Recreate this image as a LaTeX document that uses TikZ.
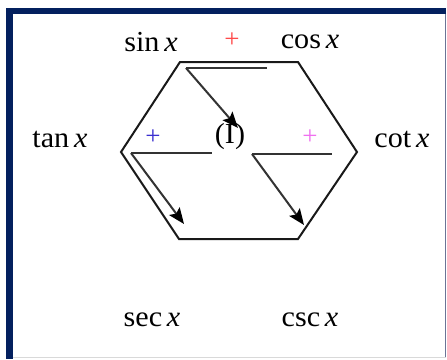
\documentclass[tikz,border=0pt]{standalone}
\usepackage{fontspec}
\setmainfont{Liberation Serif}[FakeStretch=1.04]
\usetikzlibrary{arrows.meta}
\definecolor{navy}{HTML}{03205E}
\definecolor{edgegray}{HTML}{6B7496}
\definecolor{pred}{HTML}{FF4A4A}
\definecolor{pblue}{HTML}{3A2FD0}
\definecolor{pmag}{HTML}{F070F0}
\tikzset{
  lbl/.style={inner sep=0pt, font=\fontsize{29}{33}\selectfont},
  plus/.style={inner sep=0pt, font=\fontsize{26}{30}\selectfont},
  hexline/.style={line width=2pt, black!90, line join=miter},
  inner/.style={line width=2pt, black!80},
  arr/.style={inner, -{Stealth[length=16pt,width=13pt,inset=3pt,black]}}
}
\begin{document}
\begin{tikzpicture}[x=1pt,y=-1pt]
\useasboundingbox (0,0) rectangle (447,359);
\fill[white] (0,0) rectangle (447,359);
% frame
\draw[edgegray, line width=1.2pt] (445.8,8) -- (445.8,358);
\draw[black!15, line width=1pt] (6,357.8) -- (446,357.8);
\fill[navy] (6,8) rectangle (446,14);
\fill[navy] (6,8) rectangle (13,359);
% hexagon
\coordinate (tl) at (180,62);
\coordinate (tr) at (298,62);
\coordinate (r) at (357,152);
\coordinate (br) at (298,239);
\coordinate (bl) at (179,239);
\coordinate (l) at (121,152);
\draw[hexline] (tl) -- (tr) -- (r) -- (br) -- (bl) -- (l) -- cycle;
% inner lines
\coordinate (ta) at (186,68);
\coordinate (tb) at (267,68);
\coordinate (la) at (131,153);
\coordinate (lb) at (212,153);
\coordinate (ra) at (252,154);
\coordinate (rb) at (332,154);
\coordinate (tend) at (238,128);
\coordinate (lend) at (184,224);
\coordinate (rend) at (304,225);
\draw[inner] (ta) -- (tb);
\draw[inner] (la) -- (lb);
\draw[inner, line width=2.4pt] (ra) -- (rb);
\draw[arr] (ta) -- (tend);
\draw[arr] (la) -- (lend);
\draw[arr] (ra) -- (rend);
% labels
\node[lbl] (sin) at (151,42) {sin\,\textit{x}};
\node[lbl] (cos) at (310,42) {cos\,\textit{x}};
\node[lbl] (tan) at (60,139) {tan\,\textit{x}};
\node[lbl] (cot) at (402,139) {cot\,\textit{x}};
\node[lbl] (sec) at (152,320) {sec\,\textit{x}};
\node[lbl] (csc) at (310,320) {csc\,\textit{x}};
\node[lbl] (one) at (230,137) {(I)};
\node[plus, pred] (p1) at (232,40) {+};
\node[plus, pblue] (p2) at (153,137) {+};
\node[plus, pmag] (p3) at (310,137) {+};
\end{tikzpicture}
\end{document}
